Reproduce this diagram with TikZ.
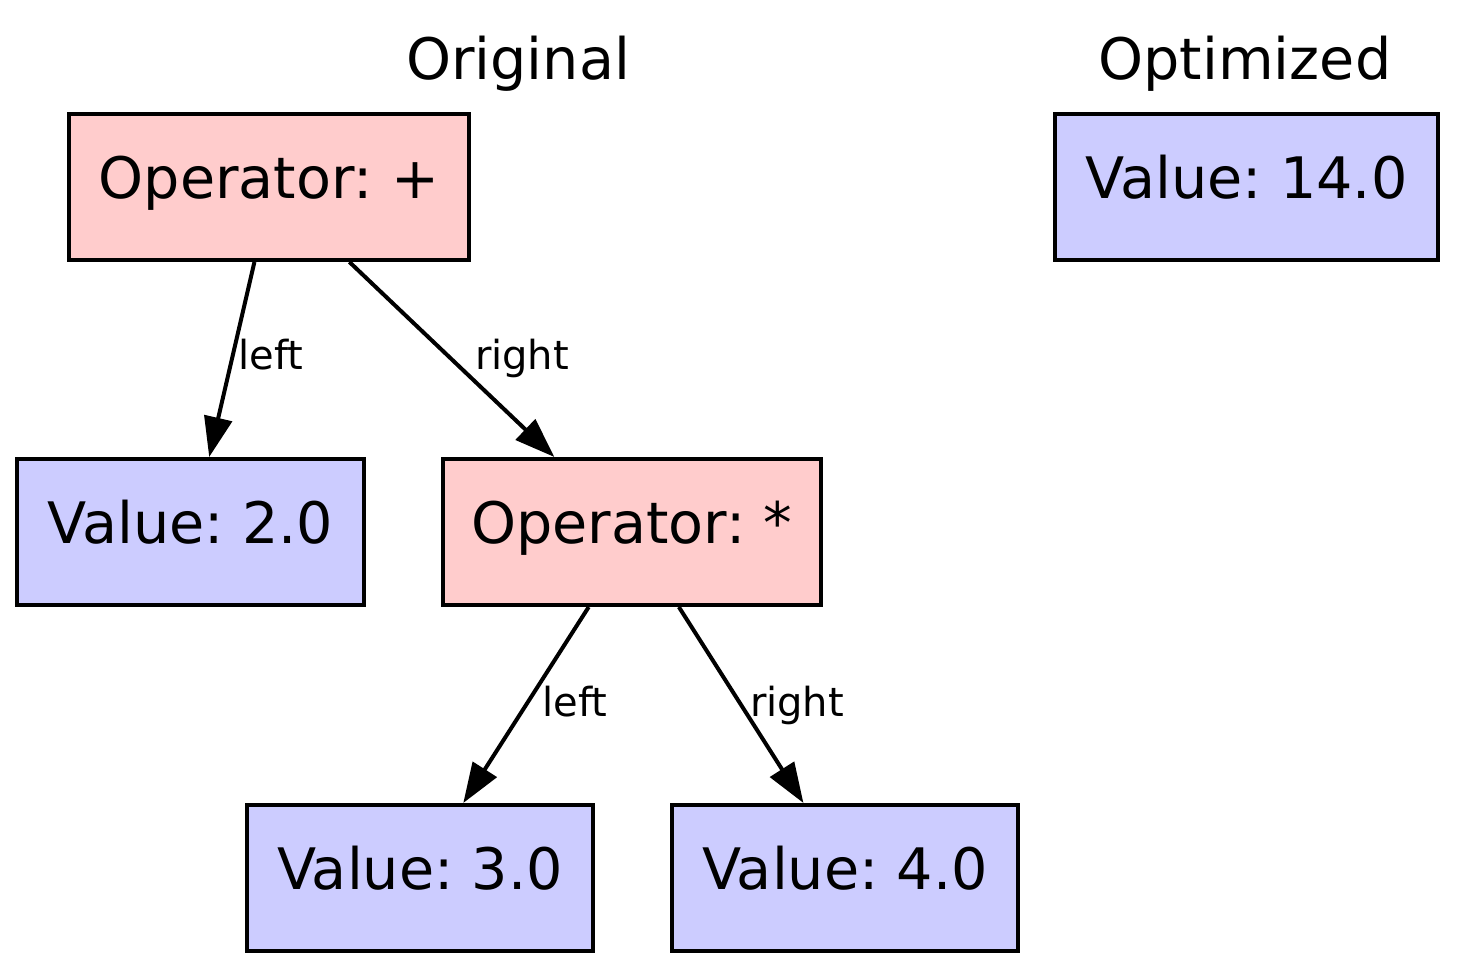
\documentclass[tikz,border=0pt]{standalone}
\usepackage{fontspec}
\setmainfont{DejaVu Sans}
\usepackage{xcolor}
\usetikzlibrary{arrows.meta}
\frenchspacing
\definecolor{oppink}{HTML}{FFCCCC}
\definecolor{valblue}{HTML}{CCCCFF}
\tikzset{box/.style={draw=black,line width=1pt,inner sep=0pt,minimum height=36.5pt,
   font=\fontsize{14.3}{17}\selectfont,text height=0.8em,text depth=0.23em},
 opbox/.style={box,fill=oppink},
 valbox/.style={box,fill=valblue},
 title/.style={anchor=base,font=\fontsize{14.3}{17}\selectfont},
 lbl/.style={anchor=base,inner sep=0pt,font=\fontsize{10}{12}\selectfont},
 edge/.style={draw,line width=1pt,-{Triangle[length=10pt,width=7pt]}},
 }

\begin{document}
\begin{tikzpicture}[x=0.25pt,y=-0.25pt]
        \useasboundingbox (0,0) rectangle (1458,971);
        \node[title] (orig) at (518,80) {Original};
        \node[title] (opt) at (1245,80) {Optimized};
        \node[opbox, minimum width=100pt] (plus) at (269,187) {Operator: +};
        \node[valbox, minimum width=86.75pt] (two) at (190.5,532) {Value: 2.0};
        \node[opbox, minimum width=94.5pt] (times) at (632,532) {Operator: *};
        \node[valbox, minimum width=86.5pt] (three) at (420,878) {Value: 3.0};
        \node[valbox, minimum width=86.5pt] (four) at (845,878) {Value: 4.0};
        \node[valbox, minimum width=95.75pt] (result) at (1246.5,187) {Value: 14.0};
        \draw[edge] (plus.-101.9) -- (two.76.3);
        \draw[edge] (plus.-43.5) -- (times.136.6);
        \draw[edge] (times.-120.1) -- (three.60.2);
        \draw[edge] (times.-58.3) -- (four.119.8);
        \node[lbl] (l1) at (271,370) {left};
        \node[lbl] (r1) at (522,370) {right};
        \node[lbl] (l2) at (575,717) {left};
        \node[lbl] (r2) at (797,717) {right};
    \end{tikzpicture}
\end{document}
